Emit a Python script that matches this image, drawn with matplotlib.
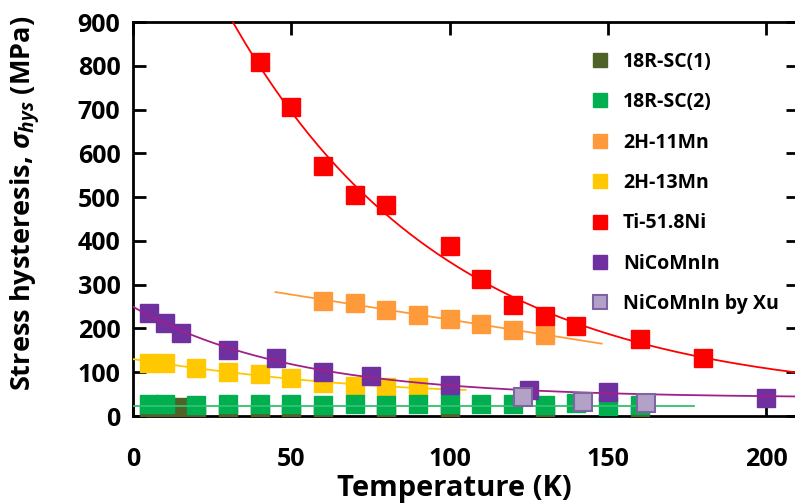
import numpy as np
import matplotlib
matplotlib.use("Agg")
import matplotlib.pyplot as plt

plt.rcParams['font.family'] = ['Open Sans', 'DejaVu Sans']
plt.rcParams['font.weight'] = 'bold'
plt.rcParams['mathtext.fontset'] = 'custom'
plt.rcParams['mathtext.rm'] = 'Open Sans:bold'
plt.rcParams['mathtext.it'] = 'Open Sans:italic:bold'

# data (T in K, hysteresis in MPa)
sc1_T = [5, 10, 15, 20, 30, 40, 50, 60, 80, 100, 130, 160]
sc1_y = [4, 4, 21, 4, 3, 3, 3, 3, 2, 3, 4, 2]

sc2_T = [5, 10, 20, 30, 40, 50, 60, 70, 80, 90, 100, 110, 120, 130, 140, 150, 160]
sc2_y = [28, 28, 25, 27, 27, 27, 25, 28, 25, 27, 27, 27, 27, 26, 29, 22, 24]

mn11_T = [60, 70, 80, 90, 100, 110, 120, 130]
mn11_y = [263, 258, 242, 231, 222, 210, 196, 185]

mn13_T = [5, 10, 20, 30, 40, 50, 60, 70, 80, 90, 100]
mn13_y = [122, 120, 110, 101, 96, 87, 76, 68, 66, 66, 62]

ti_T = [40, 50, 60, 70, 80, 100, 110, 120, 130, 140, 160, 180]
ti_y = [808, 705, 572, 505, 483, 388, 313, 254, 228, 206, 176, 132]

ni_T = [5, 10, 15, 30, 45, 60, 75, 100, 125, 150, 200]
ni_y = [235, 212, 190, 151, 132, 101, 91, 71, 59, 55, 41]

xu_T = [123, 142, 162]
xu_y = [43, 33, 30]


def exp_fit(x, y):
    # y = a*exp(-x/tau) + c, tau by grid search
    x = np.asarray(x, float)
    y = np.asarray(y, float)
    best = None
    for tau in np.linspace(10, 300, 600):
        A = np.column_stack([np.exp(-x / tau), np.ones_like(x)])
        coef, res, *_ = np.linalg.lstsq(A, y, rcond=None)
        err = np.sum((A @ coef - y) ** 2)
        if best is None or err < best[0]:
            best = (err, tau, coef)
    _, tau, (a, c) = best
    return lambda t: a * np.exp(-t / tau) + c


fig = plt.figure(figsize=(7.95, 5.03), dpi=100)
ax = fig.add_axes([133 / 795, 1 - 416 / 503, 665 / 795, 394 / 503])

ms = 12.5
ax.plot(sc1_T, sc1_y, 's', color='#4F6228', ms=ms, mec='#4F6228', label='18R-SC(1)', zorder=3)
ax.plot(sc2_T, sc2_y, 's', color='#00B050', ms=ms, mec='#00B050', label='18R-SC(2)', zorder=4)
ax.plot(mn11_T, mn11_y, 's', color='#FF9A3A', ms=ms, mec='#FF9A3A', label='2H-11Mn', zorder=3)
ax.plot(mn13_T, mn13_y, 's', color='#FFC800', ms=ms, mec='#FFC800', label='2H-13Mn', zorder=3)
ax.plot(ti_T, ti_y, 's', color='#FF0000', ms=ms, mec='#FF0000', label='Ti-51.8Ni', zorder=3)
ax.plot(ni_T, ni_y, 's', color='#7030A0', ms=ms, mec='#7030A0', label='NiCoMnIn', zorder=4)
ax.plot(xu_T, xu_y, 's', color='#B3A2C7', ms=ms, mec='#8064A2', mew=1.5,
        label='NiCoMnIn by Xu', zorder=5)

# trend lines
t = np.linspace(0, 177, 50)
p = np.polyfit(sc2_T, sc2_y, 0)
ax.plot(t, np.polyval(p, t) - 3, color='#33C070', lw=1.3, zorder=4.5)

t = np.linspace(45, 148, 50)
p = np.polyfit(mn11_T, mn11_y, 1)
ax.plot(t, np.polyval(p, t), color='#FF9A3A', lw=1.3, zorder=3.5)

t = np.linspace(0, 105, 80)
p = np.polyfit(mn13_T, mn13_y, 2)
ax.plot(t, np.polyval(p, t), color='#FFC800', lw=1.3, zorder=3.5)

f = exp_fit(ti_T, ti_y)
t = np.linspace(20, 212, 200)
ax.plot(t, f(t), color='#FF0000', lw=1.3, zorder=3.5)

f = exp_fit(ni_T, ni_y)
t = np.linspace(0, 212, 200)
ax.plot(t, f(t), color='#A0208A', lw=1.3, zorder=4.5)

ax.set_xlim(0, 210)
ax.set_ylim(0, 900)
ax.set_xticks([0, 50, 100, 150, 200])
ax.set_yticks(range(0, 901, 100))
ax.tick_params(direction='in', length=9, width=2, top=True, right=True,
               labelsize=18)
ax.tick_params(axis='x', pad=22)
ax.tick_params(axis='y', pad=9)
for s in ax.spines.values():
    s.set_linewidth(2)

ax.set_xlabel('Temperature (K)', fontsize=21, fontweight='bold')
ax.xaxis.set_label_coords(0.483, -0.148, transform=ax.transAxes)
ax.set_ylabel(r'Stress hysteresis, $\sigma_{hys}$ (MPa)', fontsize=19.5,
              fontweight='bold')
ax.yaxis.set_label_coords(-0.135, 0.54, transform=ax.transAxes)

ax.legend(loc='upper left', bbox_to_anchor=(582 / 795, 1 - 44 / 503),
          bbox_transform=fig.transFigure, frameon=False, fontsize=14,
          markerscale=0.75, handlelength=1.0, handletextpad=0.7,
          labelspacing=1.05, borderaxespad=0)

fig.savefig('out.png', dpi=100)
